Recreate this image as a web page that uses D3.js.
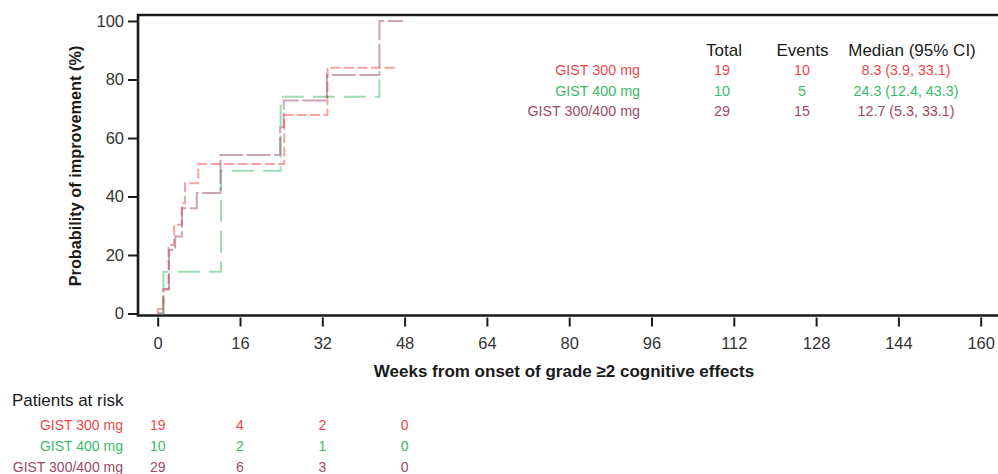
<!DOCTYPE html>
<html>
<head>
<meta charset="utf-8">
<script src="https://cdn.jsdelivr.net/npm/d3@7"></script>
<style>
  html, body { margin: 0; padding: 0; background: #fff; }
  svg { display: block; font-family: "Liberation Sans", Arial, Helvetica, sans-serif; }
</style>
</head>
<body>
<svg id="chart" width="998" height="474"></svg>
<script>
// ---------------- data ----------------
const seriesNames = ["GIST 300 mg", "GIST 400 mg", "GIST 300/400 mg"];
const seriesColors = ["#f0484a", "#3cba68", "#9c4a6a"];

// Kaplan-Meier style cumulative probability of improvement (%), step times in weeks
const red300Times  = [0, 0, 1.1, 2.1, 3.2, 4.7, 5.3, 7.9, 24.6, 33.0, 46.7];
const red300Values = [0, 1.5, 8.3, 23.4, 30.3, 37.7, 44.5, 51.1, 67.9, 84.0, 84.0];

const green400Times  = [0, 1.1, 12.3, 23.9, 43.1];
const green400Values = [0, 14.3, 48.8, 74.1, 81.5];

const combTimes  = [0, 1.1, 2.2, 3.4, 4.7, 7.6, 12.2, 23.8, 24.5, 32.9, 43.1, 47.7];
const combValues = [0, 8.3, 21.7, 26.3, 36.0, 41.2, 54.2, 63.7, 72.8, 81.5, 100, 100];

const xTicks = [0, 16, 32, 48, 64, 80, 96, 112, 128, 144, 160];
const yTicks = [0, 20, 40, 60, 80, 100];

const tableHeaders = ["Total", "Events", "Median (95% CI)"];
const totals = ["19", "10", "29"];
const events = ["10", "5", "15"];
const medians = ["8.3 (3.9, 33.1)", "24.3 (12.4, 43.3)", "12.7 (5.3, 33.1)"];

const riskWeeks = [0, 16, 32, 48];
const risk300 = [19, 4, 2, 0];
const risk400 = [10, 2, 1, 0];
const riskComb = [29, 6, 3, 0];

// ---------------- drawing ----------------
const svg = d3.select("#chart");
const x = d3.scaleLinear().domain([0, 160]).range([157.7, 980.7]);
const y = d3.scaleLinear().domain([0, 100]).range([313.5, 21]);

const frameLeft = 138, frameTop = 15, frameBottom = 315.5;

// frame (left, top, bottom)
svg.append("path")
  .attr("d", `M1000,${frameTop} H${frameLeft} V${frameBottom} H1000`)
  .attr("fill", "none").attr("stroke", "#1a1a1a").attr("stroke-width", 2.6);

// y axis ticks
const yAxis = d3.axisLeft(y).tickValues(yTicks).tickSize(9).tickPadding(4).tickSizeOuter(0);
const gy = svg.append("g").attr("transform", `translate(${frameLeft - 1},0)`).call(yAxis);
gy.select(".domain").remove();
gy.selectAll(".tick line").attr("stroke", "#1a1a1a").attr("stroke-width", 2);
gy.selectAll(".tick text").attr("font-size", 16.5).attr("fill", "#333")
  .attr("font-family", "'Liberation Sans', Arial, sans-serif");

// x axis ticks
const xAxis = d3.axisBottom(x).tickValues(xTicks).tickSize(9).tickPadding(11).tickSizeOuter(0);
const gx = svg.append("g").attr("transform", `translate(0,${frameBottom + 2})`).call(xAxis);
gx.select(".domain").remove();
gx.selectAll(".tick line").attr("stroke", "#1a1a1a").attr("stroke-width", 2);
gx.selectAll(".tick text").attr("font-size", 16.5).attr("fill", "#333")
  .attr("font-family", "'Liberation Sans', Arial, sans-serif");

// axis titles
svg.append("text")
  .attr("x", 564).attr("y", 377)
  .attr("text-anchor", "middle").attr("font-size", 17).attr("font-weight", "bold").attr("fill", "#1a1a1a")
  .text("Weeks from onset of grade \u22652 cognitive effects");
svg.append("text")
  .attr("transform", "translate(81,166) rotate(-90)")
  .attr("text-anchor", "middle").attr("font-size", 16.3).attr("font-weight", "bold").attr("fill", "#1a1a1a")
  .text("Probability of improvement (%)");

// curves
const line = d3.line().x(d => x(d[0])).y(d => y(d[1])).curve(d3.curveStepAfter);
const curves = [
  { times: green400Times, values: green400Values, color: seriesColors[1], dash: "22,9" },
  { times: red300Times, values: red300Values, color: seriesColors[0], dash: "10,3.5" },
  { times: combTimes, values: combValues, color: seriesColors[2], dash: "24,3.5" }
];
curves.forEach(c => {
  const pts = c.times.map((t, i) => [t, c.values[i]]);
  svg.append("path")
    .attr("d", line(pts))
    .attr("fill", "none")
    .attr("stroke", c.color)
    .attr("stroke-opacity", 0.5)
    .attr("stroke-width", 2)
    .attr("stroke-dasharray", c.dash);
});

// summary table
const headerX = [724, 802.5, 912];
tableHeaders.forEach((h, i) => {
  svg.append("text").attr("x", headerX[i]).attr("y", 56)
    .attr("text-anchor", "middle").attr("font-size", 17).attr("fill", "#1a1a1a").text(h);
});
const rowY = [75, 95.5, 115.5];
seriesNames.forEach((name, i) => {
  const col = seriesColors[i];
  svg.append("text").attr("x", 640).attr("y", rowY[i]).attr("text-anchor", "end")
    .attr("font-size", 14.3).attr("fill", col).text(name);
  svg.append("text").attr("x", 722).attr("y", rowY[i]).attr("text-anchor", "middle")
    .attr("font-size", 14.3).attr("fill", col).text(totals[i]);
  svg.append("text").attr("x", 802).attr("y", rowY[i]).attr("text-anchor", "middle")
    .attr("font-size", 14.3).attr("fill", col).text(events[i]);
  svg.append("text").attr("x", 906).attr("y", rowY[i]).attr("text-anchor", "middle")
    .attr("font-size", 14.3).attr("fill", col).text(medians[i]);
});

// patients at risk
svg.append("text").attr("x", 12).attr("y", 406)
  .attr("font-size", 17).attr("fill", "#1a1a1a").text("Patients at risk");
const riskRows = [risk300, risk400, riskComb];
const riskY = [430, 450.5, 472];
seriesNames.forEach((name, i) => {
  const col = seriesColors[i];
  svg.append("text").attr("x", 123).attr("y", riskY[i]).attr("text-anchor", "end")
    .attr("font-size", 14).attr("fill", col).text(name);
  riskRows[i].forEach((v, j) => {
    svg.append("text").attr("x", x(riskWeeks[j])).attr("y", riskY[i]).attr("text-anchor", "middle")
      .attr("font-size", 14).attr("fill", col).text(v);
  });
});
</script>
</body>
</html>
